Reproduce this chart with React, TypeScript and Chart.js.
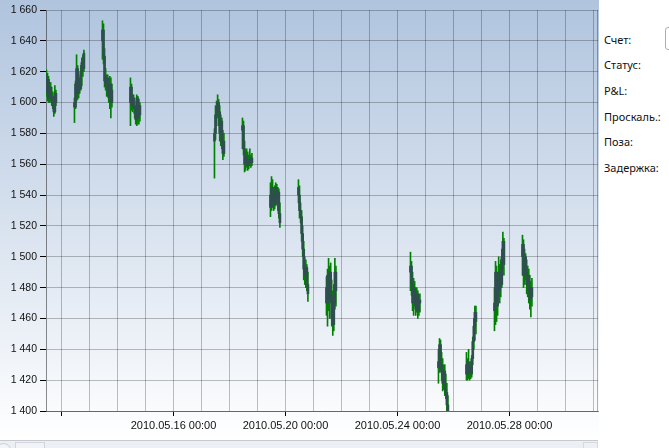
import React, { useEffect, useRef } from 'react';
import { Chart, registerables } from 'chart.js';
Chart.register(...registerables);

// Trading days (May 2010) and intraday bar times (hours)
const DAYS = [11, 12, 13, 14, 17, 18, 19, 20, 21, 24, 25, 26, 27, 28];
const BAR_HOURS = [11.1, 12.0, 12.9, 13.8, 14.7, 15.6, 16.5, 17.4, 18.3, 19.2];

const OPEN = [
  [1618, 1606, 1615, 1603, 1610, 1604, 1600, 1598, 1594, 1606],
  [1600, 1597, 1605, 1622, 1606, 1614, 1609, 1620, 1626, 1622],
  [1640, 1647, 1630, 1614, 1611, 1616, 1607, 1603, 1612, 1600],
  [1600, 1610, 1598, 1603, 1597, 1593, 1589, 1603, 1590, 1598],
  [1575, 1580, 1592, 1597, 1600, 1594, 1580, 1588, 1574, 1567],
  [1582, 1585, 1570, 1560, 1565, 1562, 1559, 1563, 1561, 1564],
  [1540, 1532, 1545, 1536, 1540, 1534, 1545, 1538, 1542, 1528],
  [1545, 1540, 1530, 1526, 1515, 1505, 1492, 1488, 1493, 1482],
  [1480, 1470, 1488, 1472, 1490, 1475, 1460, 1456, 1470, 1490],
  [1490, 1494, 1482, 1470, 1480, 1472, 1466, 1476, 1465, 1470],
  [1432, 1428, 1443, 1430, 1425, 1418, 1426, 1414, 1412, 1404],
  [1430, 1424, 1432, 1425, 1428, 1424, 1434, 1445, 1455, 1464],
  [1465, 1470, 1490, 1468, 1485, 1478, 1490, 1482, 1500, 1510],
  [1500, 1508, 1488, 1500, 1490, 1482, 1488, 1478, 1472, 1480],
];
const HIGH = [
  [1621, 1619, 1617, 1613, 1613, 1610, 1607, 1604, 1611, 1608],
  [1603, 1614, 1631, 1624, 1618, 1616, 1624, 1629, 1631, 1634],
  [1653, 1651, 1635, 1622, 1618, 1618, 1614, 1617, 1616, 1612],
  [1616, 1612, 1605, 1605, 1601, 1598, 1605, 1604, 1602, 1600],
  [1583, 1598, 1601, 1605, 1602, 1598, 1592, 1590, 1582, 1580],
  [1590, 1588, 1575, 1568, 1570, 1568, 1566, 1570, 1566, 1567],
  [1548, 1552, 1550, 1545, 1546, 1548, 1547, 1545, 1544, 1535],
  [1550, 1546, 1535, 1530, 1520, 1510, 1500, 1498, 1495, 1490],
  [1487, 1492, 1499, 1494, 1496, 1485, 1478, 1482, 1499, 1494],
  [1503, 1497, 1490, 1486, 1484, 1478, 1480, 1478, 1475, 1476],
  [1440, 1447, 1446, 1438, 1434, 1430, 1430, 1424, 1418, 1410],
  [1438, 1434, 1440, 1430, 1432, 1436, 1448, 1460, 1468, 1468],
  [1480, 1497, 1494, 1490, 1500, 1495, 1498, 1505, 1516, 1512],
  [1514, 1511, 1505, 1502, 1498, 1494, 1492, 1488, 1484, 1486],
];
const LOW = [
  [1604, 1601, 1600, 1600, 1601, 1598, 1596, 1591, 1593, 1598],
  [1587, 1596, 1601, 1602, 1603, 1606, 1608, 1611, 1617, 1620],
  [1628, 1625, 1610, 1608, 1604, 1604, 1600, 1596, 1590, 1597],
  [1585, 1595, 1594, 1596, 1590, 1586, 1585, 1586, 1586, 1588],
  [1551, 1576, 1585, 1590, 1585, 1575, 1572, 1570, 1563, 1565],
  [1570, 1566, 1555, 1556, 1558, 1556, 1557, 1559, 1558, 1559],
  [1526, 1530, 1532, 1530, 1531, 1533, 1535, 1530, 1525, 1519],
  [1535, 1525, 1522, 1510, 1500, 1485, 1482, 1480, 1478, 1471],
  [1462, 1455, 1465, 1460, 1470, 1455, 1449, 1452, 1466, 1468],
  [1478, 1475, 1465, 1462, 1468, 1462, 1464, 1460, 1462, 1464],
  [1418, 1425, 1426, 1420, 1413, 1414, 1410, 1408, 1400, 1398],
  [1420, 1420, 1421, 1420, 1421, 1422, 1430, 1440, 1446, 1450],
  [1452, 1456, 1458, 1462, 1475, 1470, 1474, 1480, 1492, 1488],
  [1488, 1480, 1482, 1485, 1476, 1474, 1470, 1466, 1461, 1468],
];
const CLOSE = [
  [1606, 1615, 1603, 1610, 1604, 1600, 1598, 1594, 1606, 1600],
  [1597, 1612, 1622, 1606, 1614, 1609, 1620, 1626, 1622, 1632],
  [1647, 1630, 1614, 1611, 1616, 1607, 1603, 1612, 1600, 1608],
  [1610, 1598, 1603, 1597, 1593, 1589, 1603, 1590, 1598, 1592],
  [1580, 1592, 1597, 1600, 1594, 1580, 1588, 1574, 1567, 1575],
  [1585, 1570, 1560, 1565, 1562, 1559, 1563, 1561, 1564, 1561],
  [1532, 1545, 1536, 1540, 1534, 1545, 1538, 1542, 1528, 1522],
  [1540, 1530, 1526, 1515, 1505, 1492, 1488, 1493, 1482, 1476],
  [1470, 1488, 1472, 1490, 1475, 1460, 1456, 1470, 1490, 1478],
  [1494, 1482, 1470, 1480, 1472, 1466, 1476, 1465, 1470, 1472],
  [1428, 1443, 1430, 1425, 1418, 1426, 1414, 1412, 1404, 1400],
  [1424, 1432, 1425, 1428, 1424, 1434, 1445, 1455, 1464, 1458],
  [1470, 1490, 1468, 1485, 1478, 1490, 1482, 1500, 1510, 1495],
  [1508, 1488, 1500, 1490, 1482, 1488, 1478, 1472, 1480, 1474],
];

const Y_MIN = 1400;
const Y_MAX = 1660;
const Y_STEP = 20;
const X_MIN = 11.446;
const X_MAX = 31.16;
const LABEL_EVERY = 4;
const FIRST_LABEL_DAY = 16;
const PANEL_LABELS = ['Счет:', 'Статус:', 'P&L:', 'Проскаль.:', 'Поза:', 'Задержка:'];

function fmtThousands(v: number) {
  const s = String(Math.round(v));
  return s.replace(/\B(?=(\d{3})+(?!\d))/g, ' ');
}

export default function App() {
  const ref = useRef<HTMLCanvasElement>(null);

  useEffect(() => {
    if (!ref.current) return;
    const wick: any[] = [];
    const body: any[] = [];
    DAYS.forEach((d, i) => {
      BAR_HOURS.forEach((h, j) => {
        const x = d + h / 24;
        wick.push({ x, y: [LOW[i][j], HIGH[i][j]] });
        body.push({ x, y: [Math.min(OPEN[i][j], CLOSE[i][j]), Math.max(OPEN[i][j], CLOSE[i][j])] });
      });
    });

    const bgPlugin = {
      id: 'bg',
      beforeDraw(chart: any) {
        const { ctx, width, height } = chart;
        const g = ctx.createLinearGradient(0, 0, 0, height);
        g.addColorStop(0, '#b0c4de');
        g.addColorStop(1, '#ffffff');
        ctx.save();
        ctx.fillStyle = g;
        ctx.fillRect(0, 0, width, height);
        ctx.restore();
      },
      afterDatasetsDraw(chart: any) {
        const { ctx, chartArea: a } = chart;
        ctx.save();
        ctx.strokeStyle = 'rgba(0,0,0,0.3)';
        ctx.lineWidth = 1;
        ctx.beginPath();
        ctx.moveTo(Math.round(a.right) - 0.5, a.top);
        ctx.lineTo(Math.round(a.right) - 0.5, a.bottom);
        ctx.stroke();
        ctx.restore();
      },
    };

    const chart = new Chart(ref.current, {
      type: 'bar',
      data: {
        datasets: [
          {
            label: 'body',
            data: body,
            backgroundColor: '#2f4f4f',
            borderWidth: 0,
            barThickness: 2,
            grouped: false,
          } as any,
          {
            label: 'wick',
            data: wick,
            backgroundColor: '#008000',
            borderWidth: 0,
            barThickness: 1,
            grouped: false,
          } as any,
        ],
      },
      options: {
        animation: false,
        responsive: false,
        layout: { padding: { top: 10, right: 1, left: 0, bottom: 0 } },
        plugins: { legend: { display: false }, tooltip: { enabled: false } },
        scales: {
          x: {
            type: 'linear',
            min: X_MIN,
            max: X_MAX,
            offset: false,
            afterFit: (s: any) => { s.height = 29; },
            grid: {
              offset: false,
              color: 'rgba(0,0,0,0.25)',
              lineWidth: 1,
              tickLength: 5,
              tickColor: (c: any) => (c.tick && c.tick.value % LABEL_EVERY === 0 ? '#000' : 'rgba(0,0,0,0)'),
            },
            border: { display: true, color: 'rgba(0,0,0,0.45)' },
            ticks: {
              stepSize: 1,
              includeBounds: false,
              autoSkip: false,
              maxRotation: 0,
              padding: 3,
              color: '#111',
              font: { family: '"Liberation Sans", Arial, sans-serif', size: 11 },
              callback: (v: any) => {
                const d = Number(v);
                if (d >= FIRST_LABEL_DAY && (d - FIRST_LABEL_DAY) % LABEL_EVERY === 0) {
                  return `2010.05.${String(d).padStart(2, '0')} 00:00`;
                }
                return '';
              },
            },
          },
          y: {
            min: Y_MIN,
            max: Y_MAX,
            afterFit: (s: any) => { s.width = 46; },
            grid: {
              color: 'rgba(0,0,0,0.25)',
              lineWidth: 1,
              tickLength: 6,
              tickColor: '#000',
            },
            border: { display: true, color: 'rgba(0,0,0,0.45)' },
            ticks: {
              stepSize: Y_STEP,
              padding: 3,
              color: '#111',
              font: { family: '"Liberation Sans", Arial, sans-serif', size: 10.5 },
              callback: (v: any) => fmtThousands(Number(v)),
            },
          },
        },
      } as any,
      plugins: [bgPlugin],
    });
    return () => chart.destroy();
  }, []);

  const panelTops = [33, 58, 84, 110, 135, 161];

  return (
    <div style={{ position: 'absolute', left: 0, top: 0, width: 669, height: 448, background: '#fff', overflow: 'hidden' }}>
      <canvas ref={ref} width={599} height={440} style={{ position: 'absolute', left: 0, top: 0, display: 'block' }} />
      <div style={{ position: 'absolute', left: 0, top: 440, width: 598, height: 8, background: '#eceff3', borderTop: '1px solid #c6cad0', boxSizing: 'border-box' }} />
      <div style={{ position: 'absolute', left: -4, top: 443, width: 13, height: 13, borderRadius: '50%', border: '1px solid #c8ccd2', background: '#f3f5f8' }} />
      <div style={{ position: 'absolute', left: 15, top: 442, width: 30, height: 10, border: '1px solid #d2d6dc', background: '#f1f3f6', boxSizing: 'border-box' }} />
      <div style={{ position: 'absolute', left: 583, top: 442, width: 15, height: 10, border: '1px solid #d6dadf', background: '#eef0f3', boxSizing: 'border-box' }} />
      <div style={{ position: 'absolute', left: 665, top: 27, width: 20, height: 23, borderRadius: 3, border: '1px solid #a9adb3', boxSizing: 'border-box' }} />
      {PANEL_LABELS.map((t, i) => (
        <div key={t} style={{ position: 'absolute', left: 604, top: panelTops[i], font: '11px "Noto Sans", sans-serif', lineHeight: '14px', color: '#111', whiteSpace: 'nowrap' }}>{t}</div>
      ))}
    </div>
  );
}
